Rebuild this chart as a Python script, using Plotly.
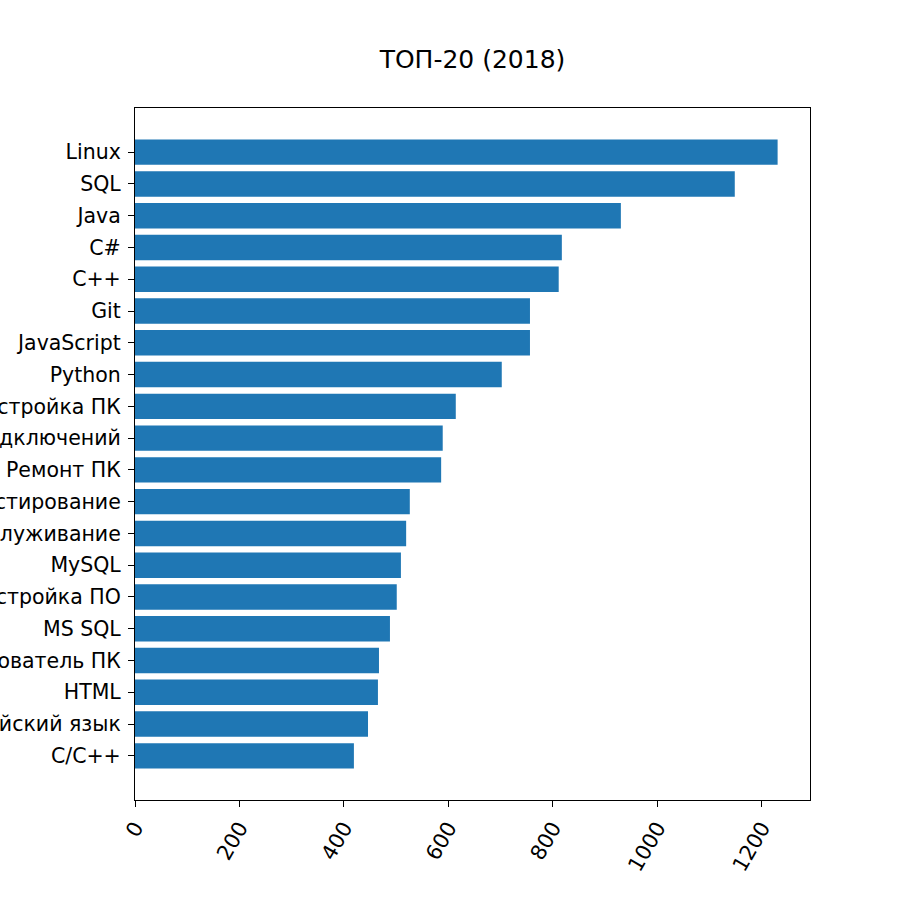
import plotly.graph_objects as go

categories = ["Linux", "SQL", "Java", "C#", "C++", "Git", "JavaScript", "Python",
              "Настройка ПК", "Настройка подключений", "Ремонт ПК", "Тестирование",
              "Обслуживание", "MySQL", "Настройка ПО", "MS SQL", "Пользователь ПК",
              "HTML", "Английский язык", "C/C++"]
values = [1230, 1148, 930, 817, 811, 756, 756, 702, 614, 589, 586, 526,
          519, 509, 501, 488, 467, 465, 446, 419]
x_ticks = [0, 200, 400, 600, 800, 1000, 1200]

cats_rev = categories[::-1]
vals_rev = values[::-1]

fig = go.Figure(go.Bar(
    x=vals_rev, y=cats_rev, orientation="h",
    marker=dict(color="#1f77b4", line=dict(width=0)),
))

font = "DejaVu Sans"
W, H = 900, 900
L, T = 135, 108
PW, PH = 675, 692
fig.update_layout(
    width=W, height=H,
    margin=dict(l=L, r=W - L - PW, t=T, b=H - T - PH, autoexpand=False),
    paper_bgcolor="white", plot_bgcolor="white",
    bargap=0.2,
    showlegend=False,
    title=dict(text="ТОП-20 (2018)", x=(L + PW / 2) / W, xanchor="center",
               y=1 - 59 / H, yanchor="middle",
               font=dict(family=font, size=25, color="black")),
    font=dict(family=font, size=21, color="black"),
)
fig.update_xaxes(
    range=[0, 1292], tickvals=x_ticks, tickangle=-60,
    showgrid=False, zeroline=False,
    showline=True, linecolor="black", linewidth=1.2, mirror=True,
    ticks="outside", ticklen=6, tickwidth=1.2, tickcolor="black",
    tickfont=dict(family=font, size=21, color="black"),
    automargin=False,
)
fig.update_yaxes(
    type="category", categoryorder="array", categoryarray=cats_rev,
    range=[-1.39, 20.39],
    showgrid=False, zeroline=False,
    showline=True, linecolor="black", linewidth=1.2, mirror=True,
    ticks="outside", ticklen=6, tickwidth=1.2, tickcolor="black",
    tickfont=dict(family=font, size=20.5, color="black"),
    ticklabelstandoff=3,
    automargin=False,
)
fig.write_html("out.html",
               config={"displayModeBar": False},
               post_script="document.body.style.margin='0';document.body.style.padding='0';")
